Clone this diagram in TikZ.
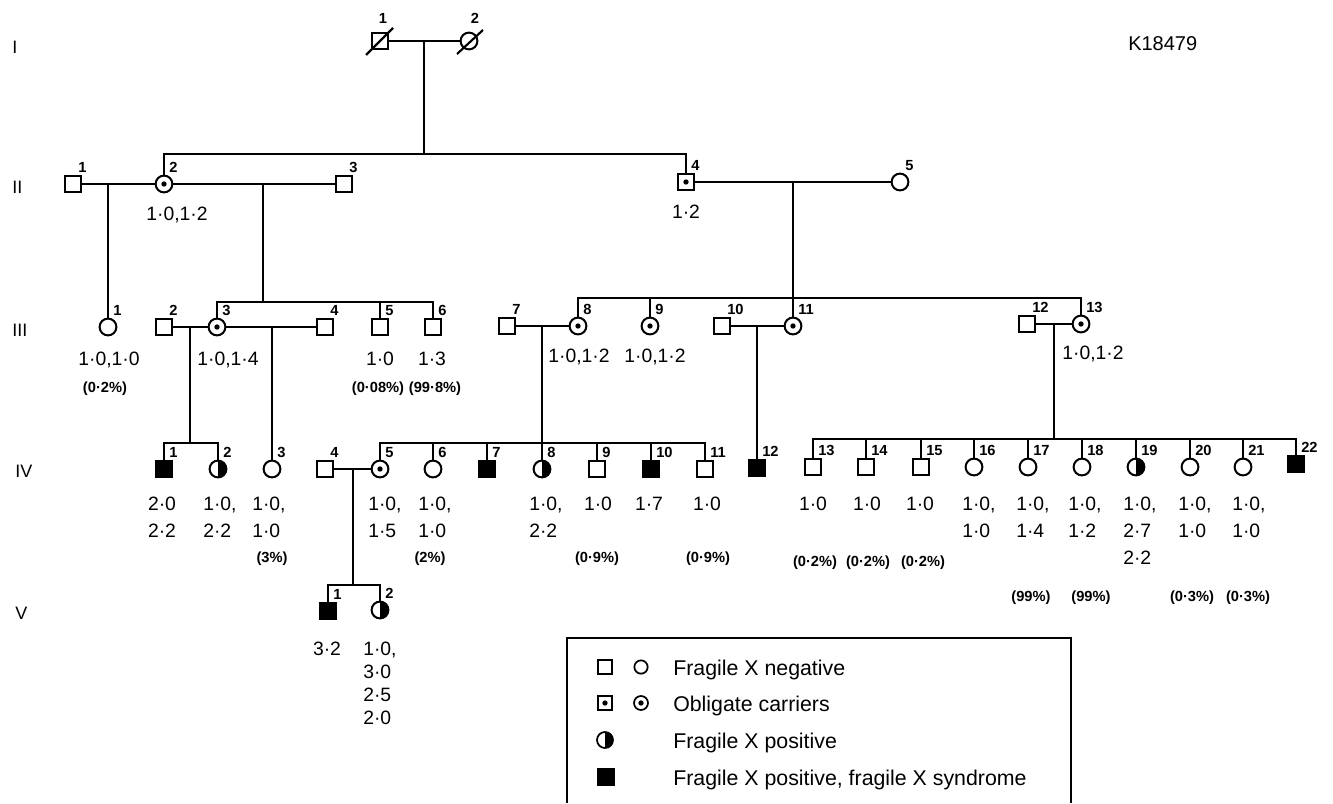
\documentclass[tikz,border=0pt]{standalone}
\usepackage{fontspec}
\setmainfont{Liberation Sans}
\newcommand\vl[5]{\foreach \t [count=\i from 0] in {#5} {\node[val, anchor=base west] (#1-\i) at (#2, {#3+#4*\i}) {\t};}}
\begin{document}
\begin{tikzpicture}[x=0.75pt,y=-0.75pt,
  ln/.style={line width=1.6pt},
  sym/.style={draw, line width=1.5pt, inner sep=0pt, outer sep=0pt, minimum size=12.6pt},
  sq/.style={sym, rectangle},
  ci/.style={sym, circle},
  aff/.style={fill=black},
  half/.style={path picture={\fill (path picture bounding box.north) rectangle (path picture bounding box.south east);}},
  car/.style={path picture={\fill (path picture bounding box.center) circle[radius=2pt];}},
  num/.style={font=\bfseries\fontsize{11}{13}\selectfont, anchor=south west, inner sep=0pt},
  val/.style={font=\fontsize{14.5}{17}\selectfont, inner sep=0pt},
  pct/.style={font=\bfseries\fontsize{11}{13}\selectfont, inner sep=0pt, anchor=base},
  gen/.style={font=\fontsize{13.5}{15}\selectfont, inner sep=0pt, anchor=base west},
  leg/.style={font=\fontsize{16}{19}\selectfont, inner sep=0pt, anchor=base west}]
\useasboundingbox (0,0) rectangle (1333,803);

% generation labels
\node[gen] (gI) at (12,53) {I};
\node[gen] (gII) at (12,193) {II};
\node[gen] (gIII) at (12,336) {III};
\node[gen] (gIV) at (15,477) {IV};
\node[gen] (gV) at (15,619) {V};
\node[font=\fontsize{15}{17}\selectfont, inner sep=0pt, anchor=base west] (kid) at (1128,50) {K18479};

% ---------- Generation I
\node[sq] (I1) at (380,41) {};
\node[ci] (I2) at (469,41) {};
\draw[ln] ([shift={(-14,14)}]I1.center) -- ([shift={(13,-13)}]I1.center);
\draw[ln] ([shift={(-12,13)}]I2.center) -- ([shift={(14,-11)}]I2.center);
\node[num, anchor=south] (I1-n) at (383,24) {1};
\node[num, anchor=south] (I2-n) at (475,24) {2};
\draw[ln] (I1) -- (I2);
\coordinate (cI) at (424,41);
\coordinate (sII) at (424,154);
\draw[ln] (cI) -- (sII);

% ---------- Generation II
\node[sq] (II1) at (73,184) {};
\node[ci,car] (II2) at (164,184) {};
\node[sq] (II3) at (344,184) {};
\node[sq,car] (II4) at (686,182) {};
\node[ci] (II5) at (900,182) {};
\draw[ln] (II2) -- (II2 |- sII) -- (II4 |- sII) -- (II4);
\draw[ln] (II1) -- (II2);
\draw[ln] (II2) -- (II3);
\draw[ln] (II4) -- (II5);
\node[val, anchor=base] (vII2) at (177,220) {1·0,1·2};
\node[val, anchor=base] (vII4) at (686,218) {1·2};

% ---------- Generation III
\node[ci] (III1) at (108,327) {};
\node[sq] (III2) at (164,327) {};
\node[ci,car] (III3) at (217,327) {};
\node[sq] (III4) at (325,327) {};
\node[sq] (III5) at (380,327) {};
\node[sq] (III6) at (433,327) {};
\node[sq] (III7) at (507,326) {};
\node[ci,car] (III8) at (578,326) {};
\node[ci,car] (III9) at (650,326) {};
\node[sq] (III10) at (722,326) {};
\node[ci,car] (III11) at (793,326) {};
\node[sq] (III12) at (1027,324) {};
\node[ci,car] (III13) at (1081,324) {};

\coordinate (cII12) at (108,184);
\draw[ln] (cII12) -- (III1);
\coordinate (cII23) at (263,184);
\coordinate (sIIIa) at (263,302);
\draw[ln] (cII23) -- (sIIIa);
\draw[ln] (III3) -- (III3 |- sIIIa) -- (III6 |- sIIIa) -- (III6);
\draw[ln] (III5 |- sIIIa) -- (III5);
\coordinate (cII45) at (793,182);
\coordinate (sIIIb) at (793,298);
\draw[ln] (cII45) -- (sIIIb);
\draw[ln] (III8) -- (III8 |- sIIIb) -- (III13 |- sIIIb) -- (III13);
\draw[ln] (III9 |- sIIIb) -- (III9);
\draw[ln] (III11 |- sIIIb) -- (III11);
\draw[ln] (III2) -- (III3);
\draw[ln] (III3) -- (III4);
\draw[ln] (III7) -- (III8);
\draw[ln] (III10) -- (III11);
\draw[ln] (III12) -- (III13);

\node[val, anchor=base] (vIII1) at (109,365) {1·0,1·0};
\node[pct] (pIII1) at (105,392) {(0·2\%)};
\node[val, anchor=base] (vIII3) at (228,365) {1·0,1·4};
\node[val, anchor=base] (vIII5) at (380,365) {1·0};
\node[val, anchor=base] (vIII6) at (432,365) {1·3};
\node[pct] (pIII5) at (378,392) {(0·08\%)};
\node[pct] (pIII6) at (435,392) {(99·8\%)};
\node[val, anchor=base] (vIII8) at (579,362) {1·0,1·2};
\node[val, anchor=base] (vIII9) at (655,362) {1·0,1·2};
\node[val, anchor=base] (vIII13) at (1093,359) {1·0,1·2};

% ---------- Generation IV
\node[sq,aff] (IV1) at (164,469) {};
\node[ci,half] (IV2) at (218,469) {};
\node[ci] (IV3) at (272,469) {};
\node[sq] (IV4) at (325,469) {};
\node[ci,car] (IV5) at (380,469) {};
\node[ci] (IV6) at (433,469) {};
\node[sq,aff] (IV7) at (487,469) {};
\node[ci,half] (IV8) at (542,469) {};
\node[sq] (IV9) at (597,469) {};
\node[sq,aff] (IV10) at (651,469) {};
\node[sq] (IV11) at (705,469) {};
\node[sq,aff] (IV12) at (757,468) {};
\node[sq] (IV13) at (813,467) {};
\node[sq] (IV14) at (866,467) {};
\node[sq] (IV15) at (921,467) {};
\node[ci] (IV16) at (974,467) {};
\node[ci] (IV17) at (1028,467) {};
\node[ci] (IV18) at (1082,467) {};
\node[ci,half] (IV19) at (1136,467) {};
\node[ci] (IV20) at (1190,467) {};
\node[ci] (IV21) at (1243,467) {};
\node[sq,aff] (IV22) at (1296,464) {};

\coordinate (cIII23) at (190,327);
\coordinate (sIVa) at (190,443);
\draw[ln] (cIII23) -- (sIVa);
\draw[ln] (IV1) -- (IV1 |- sIVa) -- (IV2 |- sIVa) -- (IV2);
\coordinate (cIII34) at (272,327);
\draw[ln] (cIII34) -- (IV3);
\coordinate (cIII78) at (542,326);
\coordinate (sIVb) at (542,443);
\draw[ln] (cIII78) -- (IV8);
\draw[ln] (IV5) -- (IV5 |- sIVb) -- (IV11 |- sIVb) -- (IV11);
\foreach \n in {IV6,IV7,IV9,IV10} \draw[ln] (\n |- sIVb) -- (\n);
\coordinate (cIII1011) at (757,326);
\draw[ln] (cIII1011) -- (IV12);
\coordinate (cIII1213) at (1054,324);
\coordinate (sIVc) at (1054,439);
\draw[ln] (cIII1213) -- (sIVc);
\draw[ln] (IV13) -- (IV13 |- sIVc) -- (IV22 |- sIVc) -- (IV22);
\foreach \n in {IV14,IV15,IV16,IV17,IV18,IV19,IV20,IV21} \draw[ln] (\n |- sIVc) -- (\n);
\draw[ln] (IV4) -- (IV5);

% values IV
\node[val, anchor=base] (vIV1a) at (162,510) {2·0};
\node[val, anchor=base] (vIV1b) at (162,537) {2·2};
\vl{vIV2}{203}{510}{27}{{1·0,},{2·2}}
\vl{vIV3}{252}{510}{27}{{1·0,},{1·0}}
\node[pct] (pIV3) at (272,562) {(3\%)};
\vl{vIV5}{368}{510}{27}{{1·0,},{1·5}}
\vl{vIV6}{418}{510}{27}{{1·0,},{1·0}}
\node[pct] (pIV6) at (430,562) {(2\%)};
\vl{vIV8}{529}{510}{27}{{1·0,},{2·2}}
\node[val, anchor=base] (vIV9) at (598,510) {1·0};
\node[pct] (pIV9) at (597,562) {(0·9\%)};
\node[val, anchor=base] (vIV10) at (649,510) {1·7};
\node[val, anchor=base] (vIV11) at (707,510) {1·0};
\node[pct] (pIV11) at (708,562) {(0·9\%)};
\node[val, anchor=base] (vIV13) at (813,510) {1·0};
\node[pct] (pIV13) at (815,566) {(0·2\%)};
\node[val, anchor=base] (vIV14) at (867,510) {1·0};
\node[pct] (pIV14) at (868,566) {(0·2\%)};
\node[val, anchor=base] (vIV15) at (920,510) {1·0};
\node[pct] (pIV15) at (923,566) {(0·2\%)};
\vl{vIV16}{962}{510}{27}{{1·0,},{1·0}}
\vl{vIV17}{1016}{510}{27}{{1·0,},{1·4}}
\node[pct] (pIV17) at (1031,601) {(99\%)};
\vl{vIV18}{1068}{510}{27}{{1·0,},{1·2}}
\node[pct] (pIV18) at (1091,601) {(99\%)};
\vl{vIV19}{1123}{510}{27}{{1·0,},{2·7},{2·2}}
\vl{vIV20}{1178}{510}{27}{{1·0,},{1·0}}
\node[pct] (pIV20) at (1192,601) {(0·3\%)};
\vl{vIV21}{1232}{510}{27}{{1·0,},{1·0}}
\node[pct] (pIV21) at (1248,601) {(0·3\%)};

% ---------- Generation V
\node[sq,aff] (V1) at (328,611) {};
\node[ci,half] (V2) at (380,610) {};
\coordinate (cIV45) at (353,469);
\coordinate (sV) at (353,585);
\draw[ln] (cIV45) -- (sV);
\draw[ln] (V1) -- (V1 |- sV) -- (V2 |- sV) -- (V2);
\node[val, anchor=base] (vV1) at (327,655) {3·2};
\vl{vV2}{363}{655}{23}{{1·0,},{3·0},{2·5},{2·0}}

% person numbers
\foreach \n/\l in {II1/1,II2/2,II3/3,II4/4,II5/5,
  III1/1,III2/2,III3/3,III4/4,III5/5,III6/6,III7/7,III8/8,III9/9,III10/10,III11/11,III12/12,III13/13,
  IV1/1,IV2/2,IV3/3,IV4/4,IV5/5,IV6/6,IV7/7,IV8/8,IV9/9,IV10/10,IV11/11,IV12/12,IV13/13,IV14/14,IV15/15,
  IV16/16,IV17/17,IV18/18,IV19/19,IV20/20,IV21/21,IV22/22,V1/1,V2/2}
  \node[num] (\n-n) at ([shift={(5,-11)}]\n.center) {\l};

% ---------- Legend
\coordinate (LBL) at (567,803);
\coordinate (LTL) at (567,638);
\coordinate (LTR) at (1071,638);
\coordinate (LBR) at (1071,803);
\draw[line width=1.1pt] (LBL) -- (LTL) -- (LTR) -- (LBR);
\node[sq, line width=1.3pt, minimum size=11pt] (L1s) at (605,667) {};
\node[ci, line width=1.3pt, minimum size=10pt] (L1c) at (641,667) {};
\node[sq, car, line width=1.3pt, minimum size=10.5pt] (L2s) at (605,703) {};
\node[ci, car, line width=1.3pt, minimum size=10.5pt] (L2c) at (641,703) {};
\node[ci, half, line width=1.3pt, minimum size=12pt] (L3) at (605,740) {};
\node[sq, aff, line width=1.3pt, minimum size=12.5pt] (L4) at (606,777) {};
\node[leg] (L1t) at (673,675) {Fragile X negative};
\node[leg] (L2t) at (673,711) {Obligate carriers};
\node[leg] (L3t) at (673,748) {Fragile X positive};
\node[leg] (L4t) at (673,785) {Fragile X positive, fragile X syndrome};
\end{tikzpicture}
\end{document}
